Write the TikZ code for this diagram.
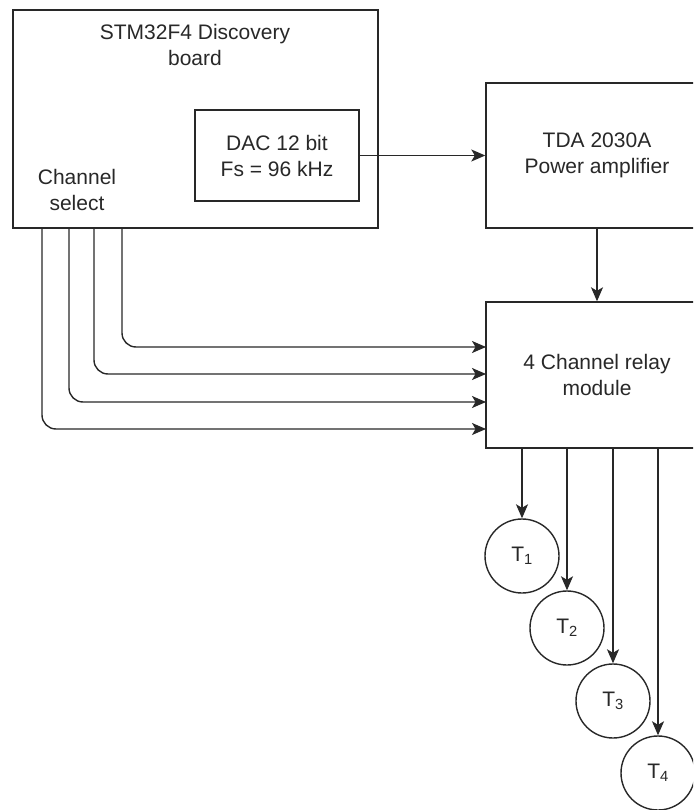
\documentclass[tikz,border=0pt]{standalone}
\usepackage{fontspec}
\setmainfont{Liberation Sans}
\definecolor{lnclr}{RGB}{40,40,40}
\usetikzlibrary{arrows.meta,positioning,calc}

\begin{document}
\begin{tikzpicture}[x=1pt,y=-1pt,
  every node/.style={font=\fontsize{21}{26}\selectfont,text=lnclr,align=center},
  blk/.style={draw=lnclr,line width=1.4pt,rectangle,inner sep=0pt},
  tnode/.style={draw=lnclr,line width=1.4pt,circle,minimum size=74pt,inner sep=0pt},
  wire/.style={draw=lnclr,line width=1.4pt,-{Stealth[length=14pt,width=12pt,inset=3.5pt]}}]
  % picture frame (boxes on the right run past the edge)
  \clip (0,0) rectangle (693,810);
  \fill[white] (0,0) rectangle (693,810);
  % Discovery board with the DAC inside
  \node[blk,minimum width=365pt,minimum height=218pt] (board) at (195.5,119) {};
  \node (boardtitle) at (195,45) {STM32F4 Discovery\\board};
  \node (chsel) at (77,190) {Channel\\select};
  \node[blk,minimum width=164pt,minimum height=91pt] (dac) at (277,155.5) {DAC 12 bit\\Fs = 96 kHz};
  % Amplifier and relay module
  \node[blk,minimum width=222pt,minimum height=145pt] (tda) at (597,155.5) {TDA 2030A\\Power amplifier};
  \node[blk,minimum width=222pt,minimum height=146pt] (relay) at (597,375) {4 Channel relay\\module};
  % Transducers
  \node[tnode] (T1) at (522,556) {T\textsubscript{1}};
  \node[tnode] (T2) at (567,628) {T\textsubscript{2}};
  \node[tnode] (T3) at (613,701) {T\textsubscript{3}};
  \node[tnode] (T4) at (658,773) {T\textsubscript{4}};
  % Signal path
  \draw[wire] (dac.east) -- (tda.west);
  \draw[wire] (tda.south) -- (relay.north);
  % Channel select lines
  \foreach \i/\xx/\yy in {1/122/347, 2/94/374, 3/69/402, 4/42/429} {
    \coordinate (cs\i) at (\xx,228);
    \coordinate (in\i) at (486,\yy);
    \draw[wire,rounded corners=14pt] (cs\i) |- (in\i);
  }
  % Relay outputs
  \foreach \t in {T1,T2,T3,T4}
    \draw[wire] (\t.north |- relay.south) -- (\t.north);
\end{tikzpicture}
\end{document}
